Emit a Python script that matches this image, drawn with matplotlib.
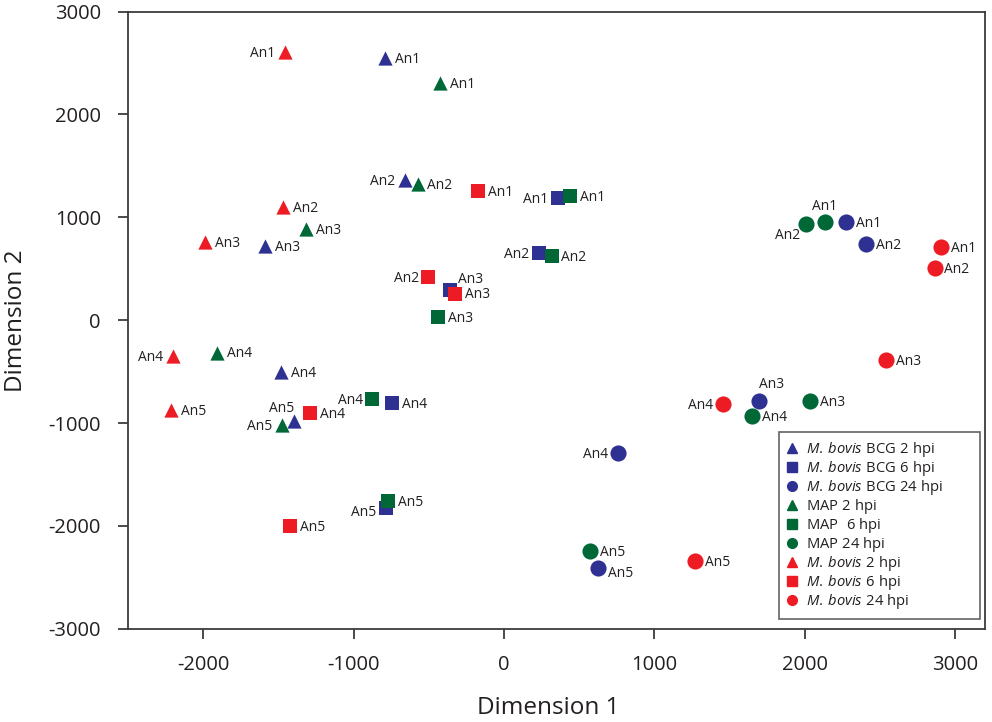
import matplotlib
matplotlib.use('Agg')
import matplotlib.pyplot as plt
from matplotlib.lines import Line2D

plt.rcParams['font.family'] = ['Open Sans', 'DejaVu Sans']
plt.rcParams['mathtext.fontset'] = 'custom'
plt.rcParams['mathtext.it'] = 'Open Sans:italic'
plt.rcParams['mathtext.rm'] = 'Open Sans'
plt.rcParams['axes.unicode_minus'] = False

animals = ['An1', 'An2', 'An3', 'An4', 'An5']

# MDS coordinates per group (Dimension 1, Dimension 2)
bcg2_x = [-790, -657, -1588, -1479, -1393]
bcg2_y = [2550, 1359, 718, -508, -981]
bcg6_x = [362, 232, -360, -741, -781]
bcg6_y = [1191, 653, 298, -803, -1828]
bcg24_x = [2277, 2408, 1694, 759, 628]
bcg24_y = [955, 741, -783, -1288, -2405]
map2_x = [-424, -573, -1313, -1907, -1477]
map2_y = [2304, 1320, 890, -314, -1023]
map6_x = [442, 318, -438, -874, -768]
map6_y = [1210, 624, 32, -767, -1754]
map24_x = [2135, 2009, 2038, 1650, 575]
map24_y = [958, 932, -783, -932, -2243]
mb2_x = [-1455, -1468, -1989, -2200, -2215]
mb2_y = [2605, 1100, 760, -347, -874]
mb6_x = [-172, -502, -322, -1287, -1420]
mb6_y = [1252, 420, 259, -900, -1997]
mb24_x = [2907, 2864, 2541, 1455, 1273]
mb24_y = [712, 508, -385, -816, -2340]

# all legend entries as mathtext so every row gets the same height
legend_labels = [r'$\it{M.\:bovis}\rm{\ BCG\ 2\ hpi}$', r'$\it{M.\:bovis}\rm{\ BCG\ 6\ hpi}$',
                 r'$\it{M.\:bovis}\rm{\ BCG\ 24\ hpi}$', r'$\rm{MAP\ 2\ hpi}$',
                 r'$\rm{MAP\ \ 6\ hpi}$', r'$\rm{MAP\ 24\ hpi}$',
                 r'$\it{M.\:bovis}\rm{\ 2\ hpi}$', r'$\it{M.\:bovis}\rm{\ 6\ hpi}$',
                 r'$\it{M.\:bovis}\rm{\ 24\ hpi}$']

blue = '#2E3192'
green = '#006837'
red = '#ED1C24'

groups = [
    (bcg2_x, bcg2_y, blue, '^'),
    (bcg6_x, bcg6_y, blue, 's'),
    (bcg24_x, bcg24_y, blue, 'o'),
    (map2_x, map2_y, green, '^'),
    (map6_x, map6_y, green, 's'),
    (map24_x, map24_y, green, 'o'),
    (mb2_x, mb2_y, red, '^'),
    (mb6_x, mb6_y, red, 's'),
    (mb24_x, mb24_y, red, 'o'),
]
sizes = {'^': 105, 's': 90, 'o': 135}

# label placement tweaks: (group index, animal index) -> (dx, dy, ha)
R = (7, -1, 'left')
L = (-7, -1, 'right')
placement = {
    (6, 0): L, (6, 3): L, (0, 1): L, (3, 4): L,
    (0, 4): (-9, 9, 'center'),
    (7, 1): L, (1, 2): (6, 7, 'left'),
    (1, 0): L, (1, 1): L, (1, 4): (-7, -3, 'right'), (4, 3): L,
    (5, 0): (0, 11, 'center'), (5, 1): (-4, -8, 'right'),
    (2, 2): (9, 12, 'center'), (2, 3): L, (8, 3): L,
    (2, 4): (7, -4, 'left'),
}

fig = plt.figure(figsize=(9.92, 7.22), dpi=100)
ax = fig.add_axes([0.129, 0.129, 0.864, 0.855])

for gi, (xs, ys, col, mk) in enumerate(groups):
    ax.scatter(xs, ys, s=sizes[mk], marker=mk, color=col, linewidths=0, zorder=3)
    for ai, (x, y) in enumerate(zip(xs, ys)):
        dx, dy, ha = placement.get((gi, ai), R)
        ax.annotate(animals[ai], (x, y), xytext=(dx, dy), textcoords='offset points',
                    ha=ha, va='center', fontsize=10, color='#231F20', zorder=4)

ax.set_xlim(-2500, 3200)
ax.set_ylim(-3000, 3000)
ax.set_xticks([-2000, -1000, 0, 1000, 2000, 3000])
ax.set_yticks([-3000, -2000, -1000, 0, 1000, 2000, 3000])
for sp in ax.spines.values():
    sp.set_color('#3C3C3C')
    sp.set_linewidth(1.3)
ax.tick_params(direction='out', length=7.5, width=1.3, color='#3C3C3C',
               labelsize=14.5, labelcolor='#231F20')
ax.tick_params(axis='x', pad=11)
ax.tick_params(axis='y', pad=12)

ax.set_xlabel('Dimension 1', fontsize=17.5, color='#231F20')
ax.set_ylabel('Dimension 2', fontsize=17.5, color='#231F20')
ax.xaxis.set_label_coords(0.49, -0.108)
ax.yaxis.set_label_coords(-0.117, 0.5)

handles = [Line2D([], [], linestyle='none', marker=mk, color=col, markersize=7)
           for (_, _, col, mk) in groups]
leg = ax.legend(handles, legend_labels, loc='lower left',
                bbox_to_anchor=(0.7597, 0.0157, 0.2345, 0.3), mode='expand',
                fontsize=10.6, frameon=True, fancybox=False, handlelength=0.7,
                handletextpad=0.55, labelspacing=0.0, borderpad=0.55,
                borderaxespad=0)
leg.get_frame().set_edgecolor('#3C3C3C')
leg.get_frame().set_linewidth(1.2)
for t in leg.get_texts():
    t.set_color('#231F20')

fig.savefig('out.png', dpi=100)
